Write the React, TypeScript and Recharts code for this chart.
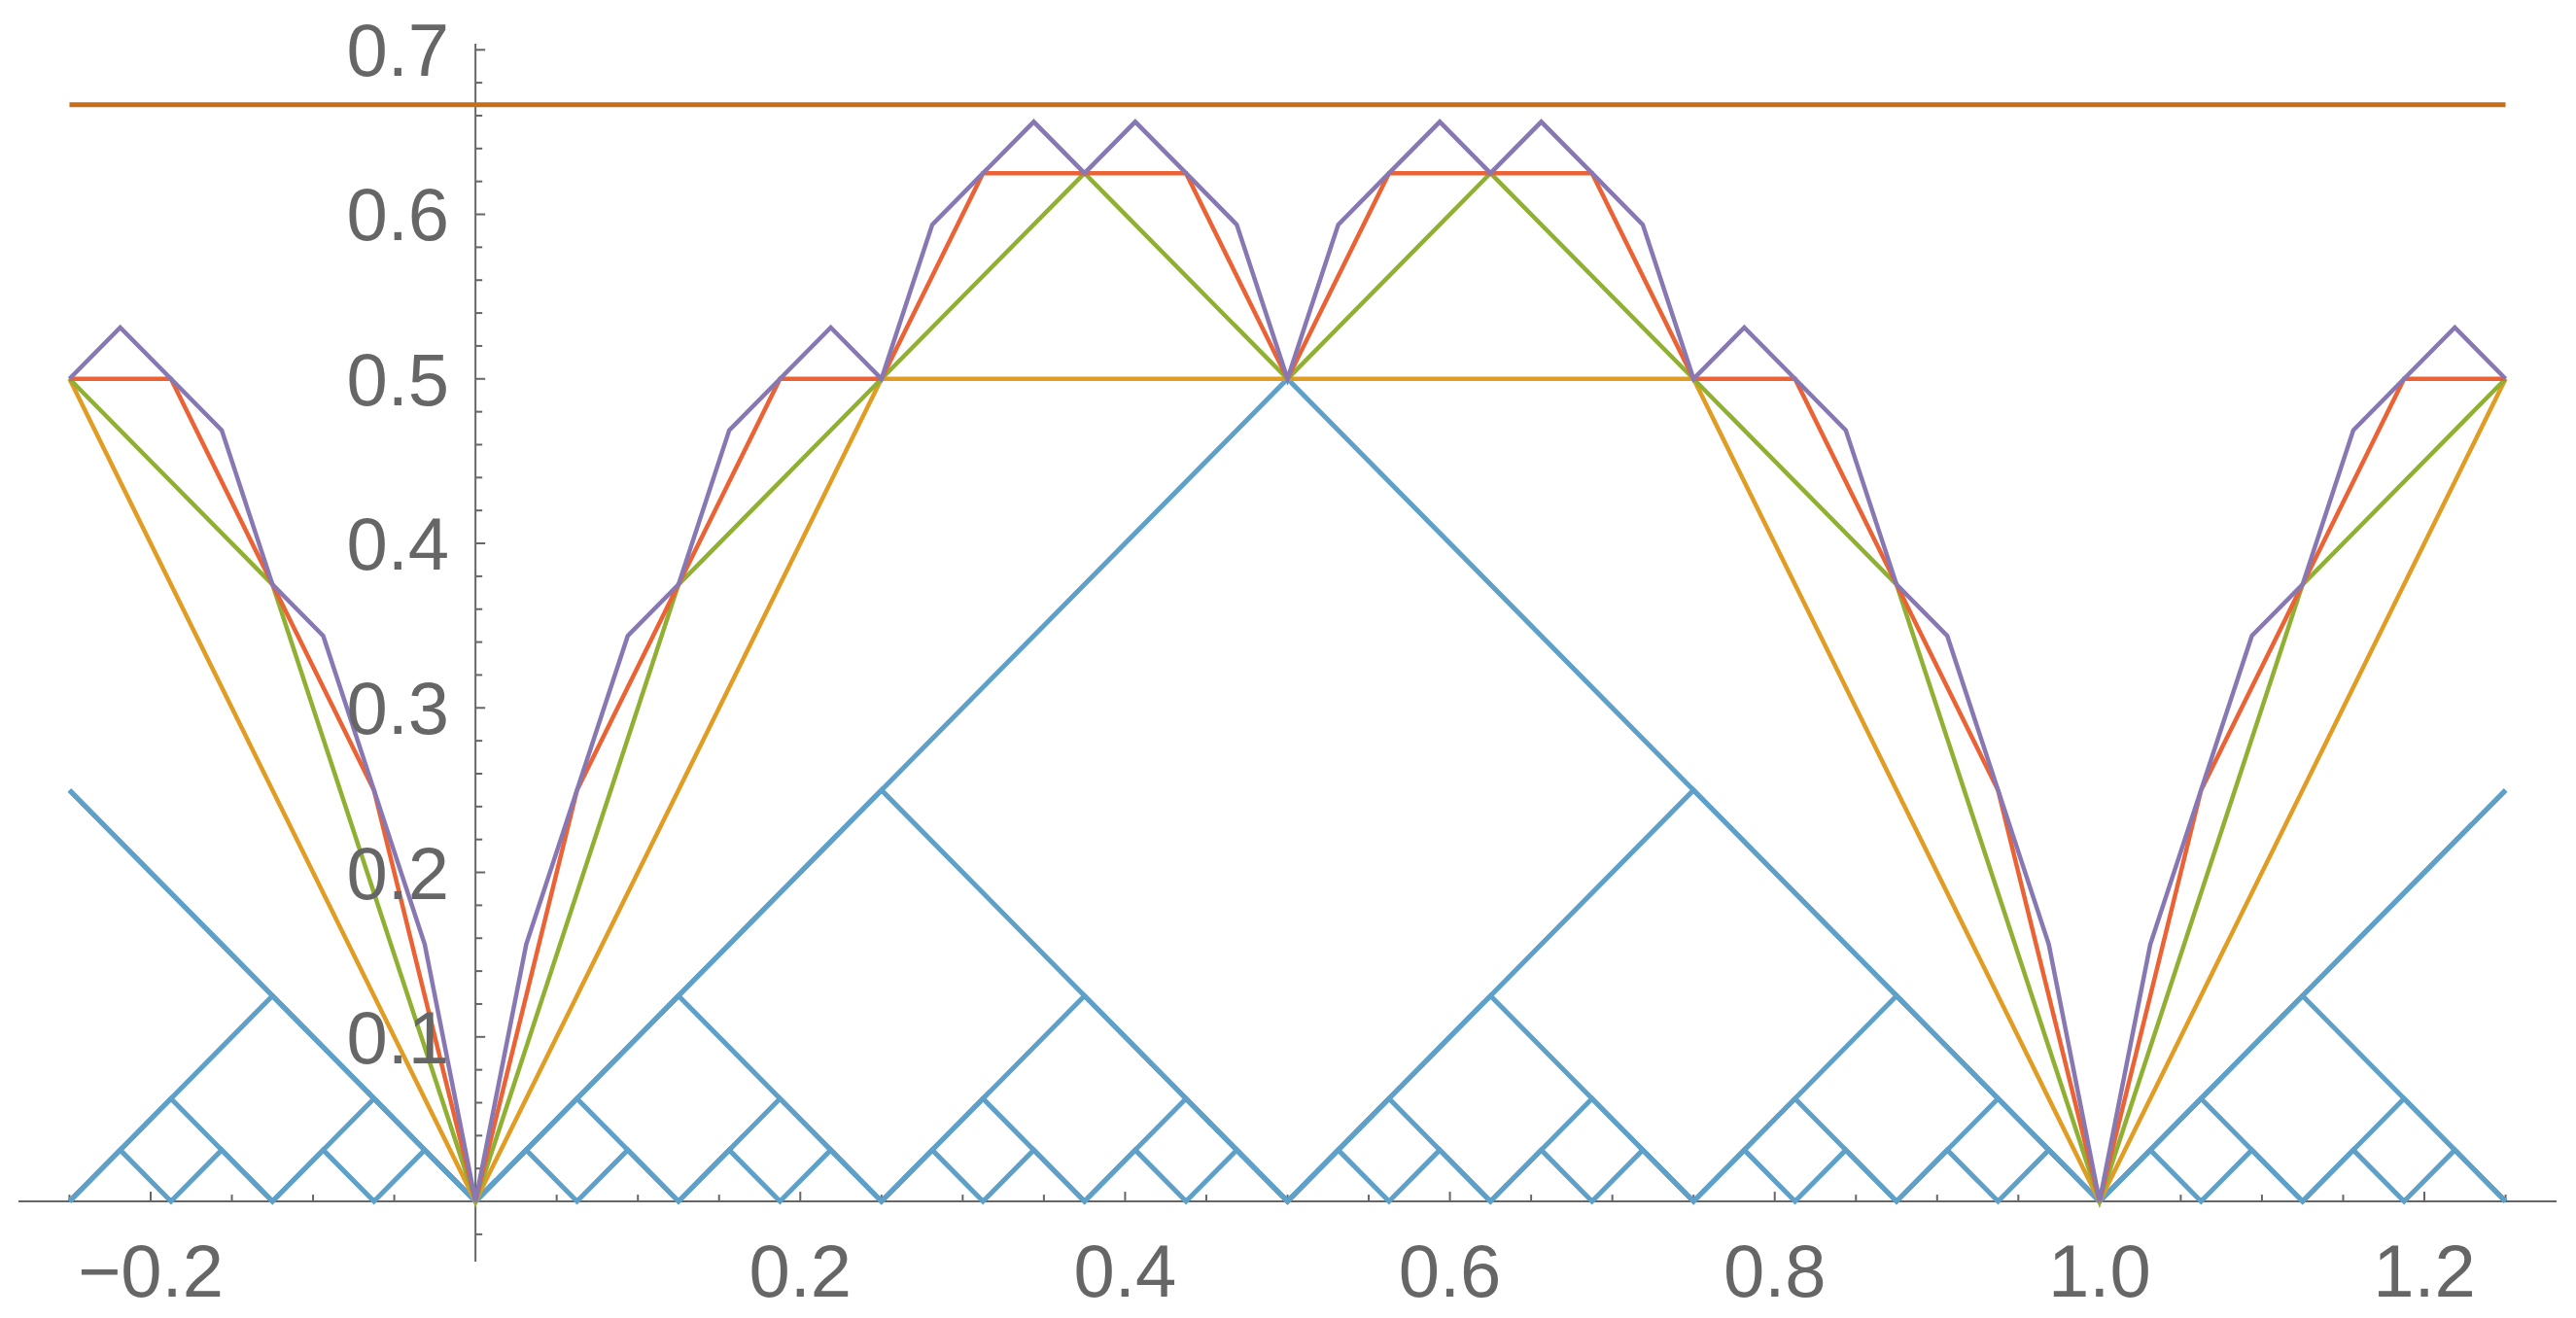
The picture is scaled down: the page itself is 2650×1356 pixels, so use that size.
import { LineChart, Line, XAxis, YAxis, ReferenceLine } from 'recharts';

// vertex grids
const xHalves = [-0.25, 0, 0.5, 1, 1.25];
const xQuarters = [-0.25, 0, 0.25, 0.5, 0.75, 1, 1.25];
const xEighths = [-0.25, -0.125, 0, 0.125, 0.25, 0.375, 0.5, 0.625, 0.75, 0.875, 1, 1.125, 1.25];
const xSixteenths = [
  -0.25, -0.1875, -0.125, -0.0625, 0, 0.0625, 0.125, 0.1875, 0.25, 0.3125, 0.375, 0.4375, 0.5,
  0.5625, 0.625, 0.6875, 0.75, 0.8125, 0.875, 0.9375, 1, 1.0625, 1.125, 1.1875, 1.25,
];
const xThirtySeconds = [
  -0.25, -0.21875, -0.1875, -0.15625, -0.125, -0.09375, -0.0625, -0.03125, 0, 0.03125, 0.0625,
  0.09375, 0.125, 0.15625, 0.1875, 0.21875, 0.25, 0.28125, 0.3125, 0.34375, 0.375, 0.40625,
  0.4375, 0.46875, 0.5, 0.53125, 0.5625, 0.59375, 0.625, 0.65625, 0.6875, 0.71875, 0.75, 0.78125,
  0.8125, 0.84375, 0.875, 0.90625, 0.9375, 0.96875, 1, 1.03125, 1.0625, 1.09375, 1.125, 1.15625,
  1.1875, 1.21875, 1.25,
];

// tent pieces (blue)
const tent1 = [0.25, 0, 0.5, 0, 0.25];
const tent2 = [0.25, 0, 0.25, 0, 0.25, 0, 0.25];
const tent4 = [0, 0.125, 0, 0.125, 0, 0.125, 0, 0.125, 0, 0.125, 0, 0.125, 0];
const tent8 = [
  0, 0.0625, 0, 0.0625, 0, 0.0625, 0, 0.0625, 0, 0.0625, 0, 0.0625, 0, 0.0625, 0, 0.0625, 0,
  0.0625, 0, 0.0625, 0, 0.0625, 0, 0.0625, 0,
];
const tent16 = [
  0, 0.03125, 0, 0.03125, 0, 0.03125, 0, 0.03125, 0, 0.03125, 0, 0.03125, 0, 0.03125, 0, 0.03125,
  0, 0.03125, 0, 0.03125, 0, 0.03125, 0, 0.03125, 0, 0.03125, 0, 0.03125, 0, 0.03125, 0, 0.03125,
  0, 0.03125, 0, 0.03125, 0, 0.03125, 0, 0.03125, 0, 0.03125, 0, 0.03125, 0, 0.03125, 0, 0.03125, 0,
];

// partial sums
const sum2 = [0.5, 0, 0.5, 0.5, 0.5, 0, 0.5];
const sum3 = [0.5, 0.375, 0, 0.375, 0.5, 0.625, 0.5, 0.625, 0.5, 0.375, 0, 0.375, 0.5];
const sum4 = [
  0.5, 0.5, 0.375, 0.25, 0, 0.25, 0.375, 0.5, 0.5, 0.625, 0.625, 0.625, 0.5, 0.625, 0.625, 0.625,
  0.5, 0.5, 0.375, 0.25, 0, 0.25, 0.375, 0.5, 0.5,
];
const sum5 = [
  0.5, 0.53125, 0.5, 0.46875, 0.375, 0.34375, 0.25, 0.15625, 0, 0.15625, 0.25, 0.34375, 0.375,
  0.46875, 0.5, 0.53125, 0.5, 0.59375, 0.625, 0.65625, 0.625, 0.65625, 0.625, 0.59375, 0.5,
  0.59375, 0.625, 0.65625, 0.625, 0.65625, 0.625, 0.59375, 0.5, 0.53125, 0.5, 0.46875, 0.375,
  0.34375, 0.25, 0.15625, 0, 0.15625, 0.25, 0.34375, 0.375, 0.46875, 0.5, 0.53125, 0.5,
];
const limitX = [-0.25, 1.25];
const limitY = [0.66667, 0.66667];

// ticks
const xMajorTicks = [-0.2, 0.2, 0.4, 0.6, 0.8, 1.0, 1.2];
const xMajorLabels = ['\u22120.2', '0.2', '0.4', '0.6', '0.8', '1.0', '1.2'];
const xMinorTicks = [
  -0.25, -0.15, -0.1, -0.05, 0.05, 0.1, 0.15, 0.25, 0.3, 0.35, 0.45, 0.5, 0.55, 0.65, 0.7, 0.75,
  0.85, 0.9, 0.95, 1.05, 1.1, 1.15, 1.25,
];
const yMajorTicks = [0.1, 0.2, 0.3, 0.4, 0.5, 0.6, 0.7];
const yMajorLabels = ['0.1', '0.2', '0.3', '0.4', '0.5', '0.6', '0.7'];
const yMinorTicks = [
  -0.02, 0.02, 0.04, 0.06, 0.08, 0.12, 0.14, 0.16, 0.18, 0.22, 0.24, 0.26, 0.28, 0.32, 0.34, 0.36,
  0.38, 0.42, 0.44, 0.46, 0.48, 0.52, 0.54, 0.56, 0.58, 0.62, 0.64, 0.66, 0.68,
];

const zip = (xs: number[], ys: number[]) => xs.map((x, i) => ({ x, y: ys[i] }));

const AXIS = '#666666';
const FONT = '"Liberation Sans", Arial, Helvetica, sans-serif';
const BLUE = '#5fa0c8';

const blueSeries = [
  zip(xHalves, tent1),
  zip(xQuarters, tent2),
  zip(xEighths, tent4),
  zip(xSixteenths, tent8),
  zip(xThirtySeconds, tent16),
];
const sumSeries = [
  { data: zip(xQuarters, sum2), color: '#e19c24' },
  { data: zip(xEighths, sum3), color: '#8fb032' },
  { data: zip(xSixteenths, sum4), color: '#eb6235' },
  { data: zip(xThirtySeconds, sum5), color: '#8778b3' },
];

// tick lengths in data units (x ~1671 px/unit, y ~1693 px/unit)
const X_MAJOR_LEN = 0.0059;
const X_MINOR_LEN = 0.0041;
const Y_MAJOR_LEN = 0.006;
const Y_MINOR_LEN = 0.0042;

export default function App() {
  return (
    <div style={{ position: 'absolute', left: 0, top: 0, width: 2650, height: 1356, background: '#fff', fontFamily: FONT }}>
      <LineChart width={2650} height={1356} margin={{ top: 45, right: 20, bottom: 58, left: 19 }}>
        <XAxis type="number" dataKey="x" domain={[-0.2814, 1.2814]} allowDataOverflow hide height={0} />
        <YAxis type="number" dataKey="y" domain={[-0.0366, 0.7037]} allowDataOverflow hide width={0} />

        {yMajorTicks.map((v, i) => (
          <ReferenceLine
            key={`ym${v}`}
            segment={[{ x: 0, y: v }, { x: Y_MAJOR_LEN, y: v }]}
            stroke={AXIS}
            strokeWidth={2}
            label={{ value: yMajorLabels[i], position: 'left', offset: 27, fill: AXIS, fontSize: 76, fontFamily: FONT }}
          />
        ))}
        {yMinorTicks.map((v) => (
          <ReferenceLine key={`yn${v}`} segment={[{ x: 0, y: v }, { x: Y_MINOR_LEN, y: v }]} stroke={AXIS} strokeWidth={2} />
        ))}
        {xMajorTicks.map((v, i) => (
          <ReferenceLine
            key={`xm${v}`}
            segment={[{ x: v, y: 0 }, { x: v, y: X_MAJOR_LEN }]}
            stroke={AXIS}
            strokeWidth={2}
            label={{ value: xMajorLabels[i], position: 'bottom', offset: 44, fill: AXIS, fontSize: 76, fontFamily: FONT }}
          />
        ))}
        {xMinorTicks.map((v) => (
          <ReferenceLine key={`xn${v}`} segment={[{ x: v, y: 0 }, { x: v, y: X_MINOR_LEN }]} stroke={AXIS} strokeWidth={2} />
        ))}
        <ReferenceLine y={0} stroke={AXIS} strokeWidth={2} />
        <ReferenceLine x={0} stroke={AXIS} strokeWidth={2} />

        {blueSeries.map((d, i) => (
          <Line
            key={`tent${i}`}
            data={d}
            dataKey="y"
            type="linear"
            stroke={BLUE}
            strokeWidth={5}
            dot={false}
            activeDot={false}
            isAnimationActive={false}
          />
        ))}
        {sumSeries.map((s, i) => (
          <Line
            key={`sum${i}`}
            data={s.data}
            dataKey="y"
            type="linear"
            stroke={s.color}
            strokeWidth={4.5}
            dot={false}
            activeDot={false}
            isAnimationActive={false}
          />
        ))}
        <Line
          data={zip(limitX, limitY)}
          dataKey="y"
          type="linear"
          stroke="#c56e1a"
          strokeWidth={5}
          dot={false}
          activeDot={false}
          isAnimationActive={false}
        />
      </LineChart>
    </div>
  );
}
